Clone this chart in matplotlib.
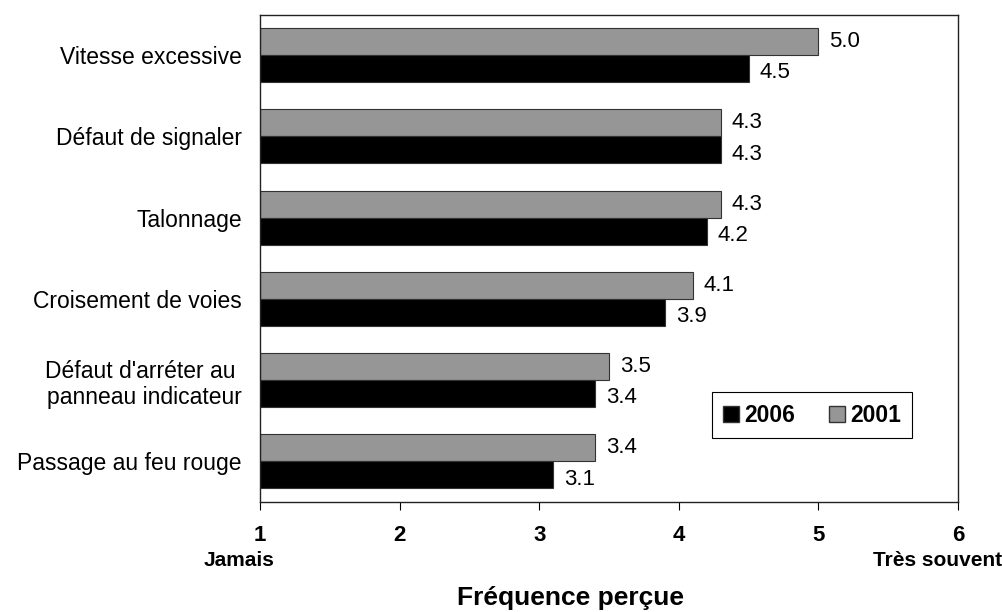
import numpy as np
import matplotlib
matplotlib.use("Agg")
import matplotlib.pyplot as plt
from matplotlib.patches import Patch

plt.rcParams['font.family'] = ['Liberation Sans', 'DejaVu Sans']

categories = [
    "Vitesse excessive",
    "Défaut de signaler",
    "Talonnage",
    "Croisement de voies",
    "Défaut d'arréter au \npanneau indicateur",
    "Passage au feu rouge",
]
vals_2006 = [4.5, 4.3, 4.2, 3.9, 3.4, 3.1]
vals_2001 = [5.0, 4.3, 4.3, 4.1, 3.5, 3.4]
xticks = [1, 2, 3, 4, 5, 6]

fig = plt.figure(figsize=(10.02, 6.12), dpi=100)
ax = fig.add_axes([0.2595, 0.1797, 0.6966, 0.7966])

y = np.arange(len(categories))
h = 1 / 3
# bars start at 1 (the scale minimum)
ax.barh(y - h / 2, np.array(vals_2001) - 1, height=h, left=1,
        color='#969696', edgecolor='#333333', linewidth=0.8, label='2001')
ax.barh(y + h / 2, np.array(vals_2006) - 1, height=h, left=1,
        color='black', edgecolor='#333333', linewidth=0.8, label='2006')

for yi, v in zip(y, vals_2001):
    ax.annotate(f"{v:.1f}", (v, yi - h / 2), xytext=(8, 0), textcoords='offset points',
                va='center', ha='left', fontsize=16)
for yi, v in zip(y, vals_2006):
    ax.annotate(f"{v:.1f}", (v, yi + h / 2), xytext=(8, -3), textcoords='offset points',
                va='center', ha='left', fontsize=16)

ax.set_xlim(1, 6)
ax.set_ylim(5.5, -0.5)
ax.set_yticks(y)
ax.set_yticklabels(categories, fontsize=16.5)
ax.tick_params(axis='y', length=0, pad=13)
ax.set_xticks(xticks)
ax.set_xticklabels([str(t) for t in xticks], fontsize=16, fontweight='bold')
ax.tick_params(axis='x', direction='out', length=5.5, pad=11)

for s in ax.spines.values():
    s.set_color('#222222')
    s.set_linewidth(1.0)

ax.annotate("Jamais", (1, 0), xycoords=('data', 'axes fraction'),
            xytext=(-15, -42), textcoords='offset points',
            ha='center', va='center', fontsize=15, fontweight='bold')
ax.annotate("Très souvent", (6, 0), xycoords=('data', 'axes fraction'),
            xytext=(-15, -42), textcoords='offset points',
            ha='center', va='center', fontsize=15, fontweight='bold')

fig.text(0.569, 0.023, "Fréquence perçue", ha='center', va='center',
         fontsize=19, fontweight='bold')

handles = [Patch(facecolor='black', edgecolor='#333333', label='2006'),
           Patch(facecolor='#969696', edgecolor='#333333', label='2001')]
leg = ax.legend(handles=handles, ncol=2, loc='center',
                bbox_to_anchor=(0.791, 0.178), fancybox=False,
                edgecolor='black', framealpha=1,
                prop={'size': 16.5, 'weight': 'bold'},
                handlelength=0.7, handleheight=0.7, handletextpad=0.2,
                columnspacing=1.5, borderpad=0.5)
leg.get_frame().set_linewidth(0.8)

fig.savefig("out.png", dpi=100)
